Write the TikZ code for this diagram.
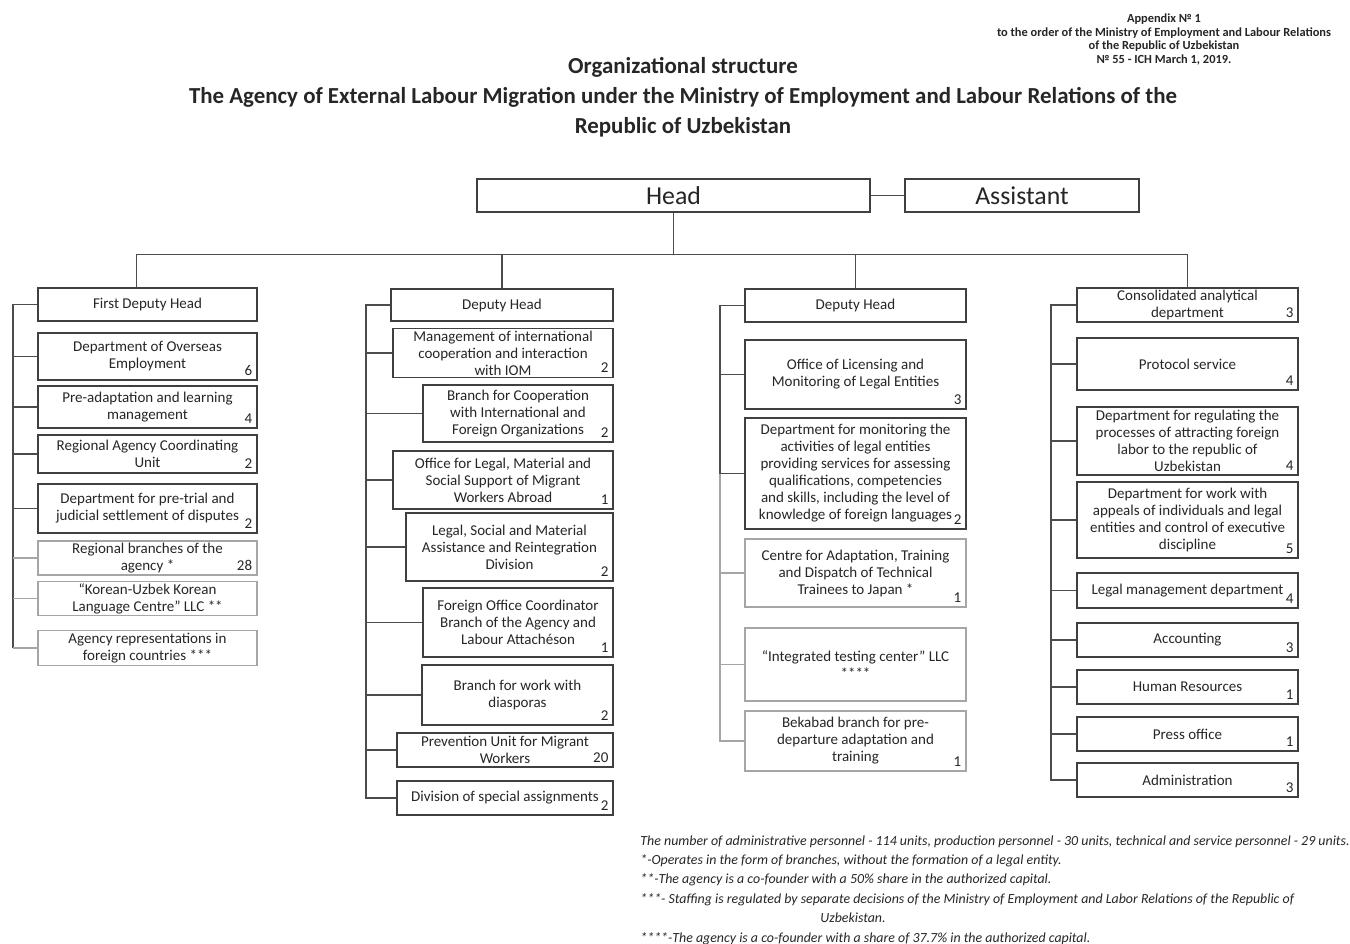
\documentclass[tikz,border=0pt]{standalone}
\usepackage{fontspec}
\setmainfont{Carlito}
\usepackage{xcolor}
\usepackage{tikz}

\tikzset{
  unit/.style={draw=black!75, line width=0.75pt, fill=white, align=center, inner sep=1pt,
    text=black!85, font=\fontsize{7.5}{8.5}\selectfont},
  faint/.style={draw=black!35, line width=0.6pt},
  link/.style={draw=black!70, line width=0.75pt},
  faintlink/.style={draw=black!35, line width=0.6pt},
  staff/.style={label={[anchor=south east, inner sep=2.5pt, text=black!85,
    font=\fontsize{7.5}{8.5}\selectfont]south east:#1}},
  sz/.style 2 args={minimum width=#1*0.5pt, minimum height=#2*0.5pt},
}

\begin{document}
\begin{tikzpicture}[x=0.5pt, y=-0.5pt]
\path[use as bounding box, fill=white] (0,0) rectangle (1350,943);

\node[align=center, font=\bfseries\fontsize{6.2}{6.8}\selectfont, text=black!85] (appendix) at (1164,39.5)
  {Appendix № 1\\to the order of the Ministry of Employment and Labour Relations\\of the Republic of Uzbekistan\\№ 55 - ICH March 1, 2019.};
\node[align=center, font=\bfseries\fontsize{11.45}{15}\selectfont, text=black!85] (title) at (683,97)
  {Organizational structure\\The Agency of External Labour Migration under the Ministry of Employment and Labour Relations of the\\Republic of Uzbekistan};

\node[unit, sz={393}{33}, font=\fontsize{12.9}{14}\selectfont] (head) at (673.5,195.5) {Head};
\node[unit, sz={234}{33}, font=\fontsize{12.9}{14}\selectfont] (assistant) at (1022,195.5) {Assistant};
\draw[link] (head) -- (assistant);

% first deputy head
\node[unit, sz={219}{33}] (deputy_1) at (147.5,304.5) {First Deputy Head};
\node[unit, sz={219}{47}, staff=6] (unit_1_1) at (147.5,356.5) {Department of Overseas\\Employment};
\node[unit, sz={219}{42}, staff=4] (unit_1_2) at (147.5,407) {Pre-adaptation and learning\\management};
\node[unit, sz={219}{38}, staff=2] (unit_1_3) at (147.5,454) {Regional Agency Coordinating\\Unit};
\node[unit, sz={219}{49}, staff=2] (unit_1_4) at (147.5,508.5) {Department for pre-trial and\\judicial settlement of disputes};
\node[unit, faint, sz={219}{34}, staff=28] (unit_1_5) at (147.5,558) {Regional branches of the\\agency *};
\node[unit, faint, sz={219}{33}] (unit_1_6) at (147.5,598.5) {``Korean-Uzbek Korean\\Language Centre'' LLC **};
\node[unit, faint, sz={219}{35}] (unit_1_7) at (147.5,648) {Agency representations in\\foreign countries ***};

% deputy head (cooperation)
\node[unit, sz={222}{32}] (deputy_2) at (502,305) {Deputy Head};
\node[unit, sz={220}{48}, staff=2] (unit_2_1) at (503,353) {Management of international\\cooperation and interaction\\with IOM};
\node[unit, sz={190}{57}, staff=2] (unit_2_2) at (518,413.5) {Branch for Cooperation\\with International and\\Foreign Organizations};
\node[unit, sz={220}{58}, staff=1] (unit_2_3) at (503,480) {Office for Legal, Material and\\Social Support of Migrant\\Workers Abroad};
\node[unit, sz={207}{68}, staff=2] (unit_2_4) at (509.5,547) {Legal, Social and Material\\Assistance and Reintegration\\Division};
\node[unit, sz={190}{69}, staff=1] (unit_2_5) at (518,622.5) {Foreign Office Coordinator\\Branch of the Agency and\\Labour Attachéson};
\node[unit, sz={191}{60}, staff=2] (unit_2_6) at (517.5,695) {Branch for work with\\diasporas};
\node[unit, sz={216}{34}, staff=20] (unit_2_7) at (505,750) {Prevention Unit for Migrant\\Workers};
\node[unit, sz={216}{34}, staff=2] (unit_2_8) at (505,798) {Division of special assignments};

% deputy head (licensing)
\node[unit, sz={221}{33}] (deputy_3) at (855.5,305.5) {Deputy Head};
\node[unit, sz={221}{69}, staff=3] (unit_3_1) at (855.5,374.5) {Office of Licensing and\\Monitoring of Legal Entities};
\node[unit, sz={221}{111}, staff=2] (unit_3_2) at (855.5,473.5) {Department for monitoring the\\activities of legal entities\\providing services for assessing\\qualifications, competencies\\and skills, including the level of\\knowledge of foreign languages};
\node[unit, faint, sz={221}{68}, staff=1] (unit_3_3) at (855.5,573) {Centre for Adaptation, Training\\and Dispatch of Technical\\Trainees to Japan *};
\node[unit, faint, sz={221}{73}] (unit_3_4) at (855.5,664.5) {``Integrated testing center'' LLC\\****};
\node[unit, faint, sz={221}{60}, staff=1] (unit_3_5) at (855.5,741) {Bekabad branch for pre-\\departure adaptation and\\training};

% services under the head
\node[unit, sz={221}{34}, staff=3] (deputy_4) at (1187.5,305) {Consolidated analytical\\department};
\node[unit, sz={221}{52}, staff=4] (unit_4_1) at (1187.5,364) {Protocol service};
\node[unit, sz={221}{68}, staff=4] (unit_4_2) at (1187.5,441) {Department for regulating the\\processes of attracting foreign\\labor to the republic of\\Uzbekistan};
\node[unit, sz={221}{76}, staff=5] (unit_4_3) at (1187.5,520) {Department for work with\\appeals of individuals and legal\\entities and control of executive\\discipline};
\node[unit, sz={221}{35}, staff=4] (unit_4_4) at (1187.5,590.5) {Legal management department};
\node[unit, sz={221}{34}, staff=3] (unit_4_5) at (1187.5,640) {Accounting};
\node[unit, sz={221}{34}, staff=1] (unit_4_6) at (1187.5,687) {Human Resources};
\node[unit, sz={221}{34}, staff=1] (unit_4_7) at (1187.5,734) {Press office};
\node[unit, sz={221}{34}, staff=3] (unit_4_8) at (1187.5,780) {Administration};

% bus from the head
\coordinate (bus) at (673.5,255);
\draw[link] (head.south) -- (bus);
\draw[link] ([xshift=-5.5pt]deputy_1.north) -- ++(0,-33) -| (deputy_4.north);
\draw[link] (deputy_2.north) -- (deputy_2.north |- bus);
\draw[link] (deputy_3.north) -- (deputy_3.north |- bus);

% spines
\coordinate (spine_1) at (13,304.5);
\coordinate (spine_2) at (366,305);
\coordinate (spine_3) at (720,305.5);
\coordinate (spine_4) at (1051,305);
\draw[link] (deputy_1.west) -- (spine_1) -- (spine_1 |- unit_1_7.west);
\draw[link] (deputy_2.west) -- (spine_2) |- (unit_2_8.west);
\draw[link] (deputy_3.west) -- (spine_3) -- (spine_3 |- unit_3_2.west);
\draw[faintlink] (spine_3 |- unit_3_2.west) |- (unit_3_5.west);
\draw[link] (deputy_4.west) -- (spine_4) |- (unit_4_8.west);
\foreach \u in {unit_1_1,unit_1_2,unit_1_3,unit_1_4}
  \draw[link] (\u.west) -- (\u.west -| spine_1);
\foreach \u in {unit_1_5,unit_1_6,unit_1_7}
  \draw[faintlink] (\u.west) -- (\u.west -| spine_1);
\foreach \u in {unit_2_1,unit_2_2,unit_2_3,unit_2_4,unit_2_5,unit_2_6,unit_2_7}
  \draw[link] (\u.west) -- (\u.west -| spine_2);
\foreach \u in {unit_3_1,unit_3_2}
  \draw[link] (\u.west) -- (\u.west -| spine_3);
\foreach \u in {unit_3_3,unit_3_4}
  \draw[faintlink] (\u.west) -- (\u.west -| spine_3);
\foreach \u in {unit_4_1,unit_4_2,unit_4_3,unit_4_4,unit_4_5,unit_4_6,unit_4_7}
  \draw[link] (\u.west) -- (\u.west -| spine_4);

\node[anchor=north west, inner sep=0pt, align=left, text=black!85,
  font=\itshape\fontsize{6.95}{9.7}\selectfont] (notes) at (640,835)
  {The number of administrative personnel - 114 units, production personnel - 30 units, technical and service personnel - 29 units.\\
   *-Operates in the form of branches, without the formation of a legal entity.\\
   **-The agency is a co-founder with a 50\% share in the authorized capital.\\
   ***- Staffing is regulated by separate decisions of the Ministry of Employment and Labor Relations of the Republic of\\
   \hspace*{90pt}Uzbekistan.\\
   ****-The agency is a co-founder with a share of 37.7\% in the authorized capital.};
\end{tikzpicture}
\end{document}
